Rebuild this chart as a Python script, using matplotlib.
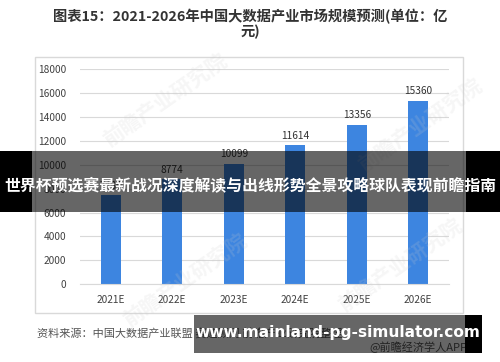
import matplotlib
matplotlib.use("Agg")
import matplotlib.pyplot as plt
from matplotlib.patches import Rectangle

plt.rcParams['font.family'] = ['Noto Sans CJK SC', 'DejaVu Sans']

# Daten
jahre = ["2021E", "2022E", "2023E", "2024E", "2025E", "2026E"]
werte = [7480, 8774, 10099, 11614, 13356, 15360]
y_ticks = [0, 2000, 4000, 6000, 8000, 10000, 12000, 14000, 16000, 18000]

titel = "图表15：2021-2026年中国大数据产业市场规模预测(单位：亿\n元)"
quelle = "资料来源：中国大数据产业联盟 赛迪顾问 前瞻产业研究院整理"
banner = "世界杯预选赛最新战况深度解读与出线形势全景攻略球队表现前瞻指南"
url = "www.mainland-pg-simulator.com"

W, H = 500, 362
fig = plt.figure(figsize=(W / 100, H / 100), dpi=100)

def fx(px):
    return px / W

def fy(py):
    return 1 - py / H

def rect(x0, y0, x1, y1, **kw):
    # Rechteck in Pixelkoordinaten (oben links = 0,0)
    fig.patches.append(Rectangle((fx(x0), fy(y1)), fx(x1) - fx(x0), fy(y0) - fy(y1),
                                 transform=fig.transFigure, **kw))

# Rahmen um das Diagramm
rect(35, 57, 463, 313, facecolor="none", edgecolor="#d9d9d9", linewidth=1.0, zorder=0.5)

ax = fig.add_axes([fx(80), fy(284.3), fx(449) - fx(80), fy(69) - fy(284.3)])
x = range(len(jahre))
ax.bar(x, werte, width=0.32, color="#3d85e0", zorder=2)
for xi, v in zip(x, werte):
    ax.text(xi, v + 350, str(v), ha="center", va="bottom", fontsize=7.3, color="#333333")

ax.set_xlim(-0.5, len(jahre) - 0.5)
ax.set_ylim(0, 18000)
ax.set_yticks(y_ticks)
ax.set_yticklabels([str(t) for t in y_ticks], fontsize=7.3, color="#404040")
ax.set_xticks(list(x))
ax.set_xticklabels(jahre, fontsize=7.3, color="#404040")
ax.tick_params(length=0, pad=8)
ax.tick_params(axis="y", pad=10)
ax.grid(axis="y", color="#d9d9d9", linewidth=0.8, zorder=0)
for s in ["top", "right", "left"]:
    ax.spines[s].set_visible(False)
ax.spines["bottom"].set_color("#d9d9d9")
ax.set_axisbelow(True)

# Wasserzeichen
for wx, wy in [(165, 100), (420, 125), (185, 280), (400, 265)]:
    fig.text(fx(wx), fy(wy), "前瞻产业研究院", fontsize=15, color="#cccccc", alpha=0.18,
             rotation=35, ha="center", va="center", fontweight="bold", zorder=3)

# Titel
fig.text(0.5, fy(24), titel, ha="center", va="center", fontsize=10.3,
         fontweight="bold", color="#333333", linespacing=1.0)

# Quelle
fig.text(fx(37), fy(333), quelle, ha="left", va="center", fontsize=8, color="#555555")
fig.text(fx(467), fy(347), "@前瞻经济学人APP", ha="right", va="center", fontsize=8, color="#555555")

# Banner in der Mitte
rect(0, 151, 32, 212, facecolor="black", edgecolor="none", zorder=5)
rect(466, 151, 500, 212, facecolor="black", edgecolor="none", zorder=5)
rect(32, 151, 466, 212, facecolor="black", alpha=0.6, edgecolor="none", zorder=5)
fig.text(0.5, fy(185), banner, ha="center", va="center", fontsize=11.4,
         fontweight="bold", color="white", zorder=6)

# Banner unten
rect(465, 315, 482, 353, facecolor="black", edgecolor="none", zorder=5)
rect(194, 315, 465, 353, facecolor="black", alpha=0.6, edgecolor="none", zorder=5)
fig.text(fx(338), fy(333), url, ha="center", va="center", fontsize=11.1,
         fontweight="bold", color="white", family="DejaVu Sans", zorder=6)

fig.savefig("out.png", dpi=100)
